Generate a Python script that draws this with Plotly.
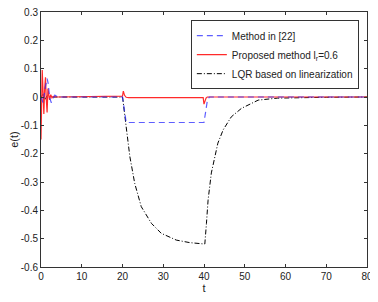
import plotly.graph_objects as go

# Method in [22]
t_blue = [0, 0.5, 1.0, 1.5, 1.8, 2.1, 2.5, 2.9, 3.4, 3.9, 4.5, 20, 20.3, 20.6, 20.9, 40, 40.2, 40.5, 40.8, 41.3, 80]
e_blue = [0, -0.02, 0.03, 0.065, 0.045, 0.0, -0.02, -0.01, 0.007, 0.002, 0, 0, -0.03, -0.07, -0.09, -0.09, -0.07, -0.04, -0.015, 0, 0]

# Proposed method
t_red = [0, 0.15, 0.3, 0.5, 0.7, 0.9, 1.1, 1.3, 1.5, 1.7, 1.9, 2.1, 2.4, 2.7, 3.0, 3.5, 4,
         20, 20.2, 20.5, 20.9, 21.5, 39.8, 40.0, 40.2, 40.5, 40.8, 80]
e_red = [-0.15, 0.0, 0.095, 0.02, -0.06, 0.03, 0.07, -0.01, -0.055, 0.03, 0.012, -0.01, 0.008, -0.003, 0.002, 0, 0,
         0.003, 0.021, 0.006, -0.001, -0.002, -0.002, -0.025, -0.015, -0.004, 0, 0]

# LQR based on linearization
t_lqr = [0, 0.5, 1, 1.5, 2, 3, 20, 20.1, 20.5, 20.9, 21.8, 23.0, 24.6, 27.1, 29.5, 33.2, 36.5, 40,
         40.2, 40.6, 41.0, 41.8, 42.6, 43.4, 44.7, 46.7, 49.2, 53.3, 58, 64, 70, 80]
e_lqr = [0, 0.01, -0.01, 0.005, 0, 0, 0, -0.01, -0.05, -0.105, -0.21, -0.305, -0.387, -0.446, -0.481, -0.505, -0.514, -0.518,
         -0.519, -0.446, -0.364, -0.268, -0.21, -0.163, -0.116, -0.07, -0.04, -0.011, -0.004, -0.002, -0.001, 0]

x_ticks = [0, 10, 20, 30, 40, 50, 60, 70, 80]
y_ticks = [-0.6, -0.5, -0.4, -0.3, -0.2, -0.1, 0, 0.1, 0.2, 0.3]
y_labels = ["-0.6", "-0.5", "-0.4", "-0.3", "-0.2", "-0.1", "0", "0.1", "0.2", "0.3"]

fig = go.Figure()
fig.add_trace(go.Scatter(x=t_lqr, y=e_lqr, mode="lines", name="LQR based on linearization", legendrank=3,
                         line=dict(color="black", width=1, dash="5px,2px,1px,2px")))
fig.add_trace(go.Scatter(x=t_red, y=e_red, mode="lines", name="Proposed method l<sub>r</sub>=0.6", legendrank=2,
                         line=dict(color="#ff2a2a", width=1.2)))
fig.add_trace(go.Scatter(x=t_blue, y=e_blue, mode="lines", name="Method in [22]", legendrank=1,
                         line=dict(color="rgba(40,40,255,0.75)", width=1.2, dash="6px,4px")))

axis_common = dict(showgrid=False, zeroline=False, showline=True, linecolor="#333333", linewidth=1,
                   mirror="ticks", ticks="inside", ticklen=3, tickcolor="#333333", automargin=False,
                   ticklabeloverflow="allow", tickfont=dict(size=10, color="#222222"))

fig.update_xaxes(range=[0, 80], tickvals=x_ticks, title=dict(text="t", standoff=2, font=dict(size=11)),
                 **axis_common)
fig.update_yaxes(range=[-0.6, 0.3], tickvals=y_ticks, ticktext=y_labels,
                 title=dict(text="e(t)", standoff=4, font=dict(size=11)), **axis_common)

# the page body has an 8px margin, so the figure is offset by 8px in x and y
fig.update_layout(
    width=370, height=294,
    margin=dict(l=33, r=11, t=4, b=35),
    paper_bgcolor="white", plot_bgcolor="white",
    font=dict(family="Liberation Sans, Arial, sans-serif", color="#222222"),
    legend=dict(x=0.975, y=0.968, xanchor="right", yanchor="top", bordercolor="#333333", borderwidth=1,
                bgcolor="white", font=dict(size=10), itemwidth=30, tracegroupgap=0),
    showlegend=True,
)

fig.write_html("out.html")
